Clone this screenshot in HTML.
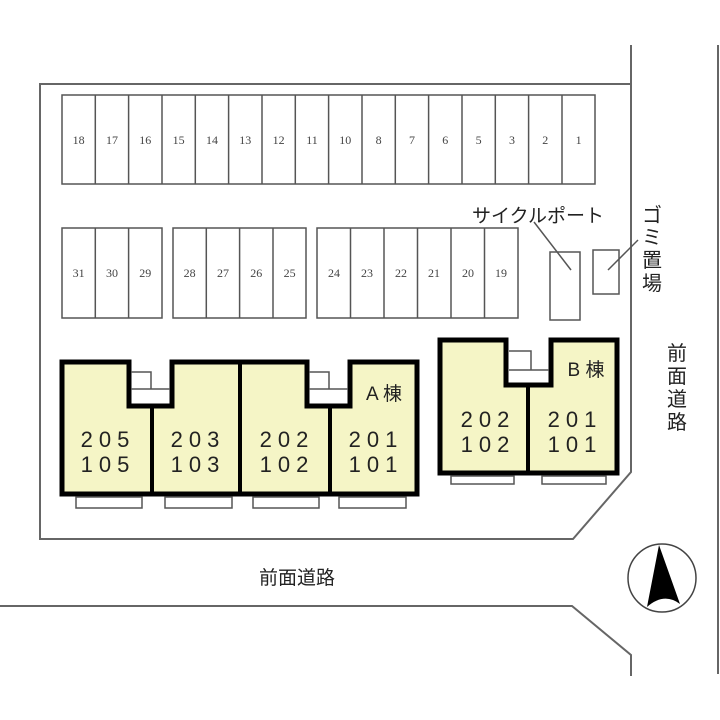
<!DOCTYPE html>
<html><head><meta charset="utf-8"><style>
html,body{margin:0;padding:0;background:#fff;}
svg{display:block;}
text{font-family:"Liberation Sans","Noto Sans CJK JP",sans-serif;fill:#222;}
.n{font-size:12px;fill:#444;text-anchor:middle;font-family:"Liberation Serif",serif;}
.u{font-size:22px;text-anchor:middle;letter-spacing:6px;}
</style></head><body>
<svg width="720" height="720" viewBox="0 0 720 720" xmlns="http://www.w3.org/2000/svg">
<g fill="none" stroke="#666" stroke-width="2">
<polyline points="631,45 631,472 573,539 40,539 40,84 631,84"/>
<polyline points="0,606 572,606 631,655 631,676"/>
<line x1="718" y1="45" x2="718" y2="674"/>
</g>
<g fill="#fff" stroke="#555" stroke-width="1.5">
<rect x="62" y="95" width="533" height="89"/>
<rect x="62" y="228" width="100" height="90"/>
<rect x="173" y="228" width="133" height="90"/>
<rect x="317" y="228" width="201" height="90"/>
<rect x="550" y="252" width="30" height="68"/>
<rect x="593" y="250" width="26" height="44"/>
</g>
<g stroke="#555" stroke-width="1.5">
<line x1="95.3" y1="95" x2="95.3" y2="184"/><line x1="128.6" y1="95" x2="128.6" y2="184"/>
<line x1="162" y1="95" x2="162" y2="184"/><line x1="195.3" y1="95" x2="195.3" y2="184"/>
<line x1="228.6" y1="95" x2="228.6" y2="184"/><line x1="262" y1="95" x2="262" y2="184"/>
<line x1="295.3" y1="95" x2="295.3" y2="184"/><line x1="328.6" y1="95" x2="328.6" y2="184"/>
<line x1="362" y1="95" x2="362" y2="184"/><line x1="395.3" y1="95" x2="395.3" y2="184"/>
<line x1="428.6" y1="95" x2="428.6" y2="184"/><line x1="462" y1="95" x2="462" y2="184"/>
<line x1="495.3" y1="95" x2="495.3" y2="184"/><line x1="528.6" y1="95" x2="528.6" y2="184"/>
<line x1="562" y1="95" x2="562" y2="184"/>
<line x1="95.3" y1="228" x2="95.3" y2="318"/><line x1="128.6" y1="228" x2="128.6" y2="318"/>
<line x1="206.3" y1="228" x2="206.3" y2="318"/><line x1="239.6" y1="228" x2="239.6" y2="318"/><line x1="273" y1="228" x2="273" y2="318"/>
<line x1="350.5" y1="228" x2="350.5" y2="318"/><line x1="384" y1="228" x2="384" y2="318"/><line x1="417.5" y1="228" x2="417.5" y2="318"/><line x1="451" y1="228" x2="451" y2="318"/><line x1="484.5" y1="228" x2="484.5" y2="318"/>
<line x1="534" y1="222" x2="571" y2="270"/>
<line x1="638" y1="240" x2="608" y2="270"/>
</g>
<g class="n">
<text x="78.6" y="144" class="n">18</text><text x="112" y="144" class="n">17</text><text x="145.3" y="144" class="n">16</text><text x="178.6" y="144" class="n">15</text>
<text x="212" y="144" class="n">14</text><text x="245.3" y="144" class="n">13</text><text x="278.6" y="144" class="n">12</text><text x="312" y="144" class="n">11</text>
<text x="345.3" y="144" class="n">10</text><text x="378.6" y="144" class="n">8</text><text x="412" y="144" class="n">7</text><text x="445.3" y="144" class="n">6</text>
<text x="478.6" y="144" class="n">5</text><text x="512" y="144" class="n">3</text><text x="545.3" y="144" class="n">2</text><text x="578.6" y="144" class="n">1</text>
<text x="78.6" y="277" class="n">31</text><text x="112" y="277" class="n">30</text><text x="145.3" y="277" class="n">29</text>
<text x="189.6" y="277" class="n">28</text><text x="223" y="277" class="n">27</text><text x="256.3" y="277" class="n">26</text><text x="289.6" y="277" class="n">25</text>
<text x="334" y="277" class="n">24</text><text x="367" y="277" class="n">23</text><text x="401" y="277" class="n">22</text><text x="434" y="277" class="n">21</text><text x="468" y="277" class="n">20</text><text x="501" y="277" class="n">19</text>
</g>
<path d="M62,362 H129 V406 H172 V362 H307 V406 H350 V362 H417 V494 H62 Z" fill="#f5f5c6" stroke="#000" stroke-width="5"/>
<g stroke="#000" stroke-width="4"><line x1="152" y1="406" x2="152" y2="494"/><line x1="240" y1="362" x2="240" y2="494"/><line x1="330" y1="406" x2="330" y2="494"/></g>
<g fill="none" stroke="#555" stroke-width="1.5">
<polyline points="131,372 151,372 151,389"/><line x1="131" y1="389" x2="170" y2="389"/>
<polyline points="309,372 329,372 329,389"/><line x1="309" y1="389" x2="348" y2="389"/>
<rect x="76" y="497" width="66" height="11"/><rect x="165" y="497" width="67" height="11"/><rect x="253" y="497" width="66" height="11"/><rect x="339" y="497" width="67" height="11"/>
</g>
<text x="384" y="400" style="font-size:19px;text-anchor:middle;">A 棟</text>
<text x="108" y="447" class="u">205</text><text x="108" y="472" class="u">105</text>
<text x="198" y="447" class="u">203</text><text x="198" y="472" class="u">103</text>
<text x="287" y="447" class="u">202</text><text x="287" y="472" class="u">102</text>
<text x="376" y="447" class="u">201</text><text x="376" y="472" class="u">101</text>
<path d="M440,340 H506 V385 H551 V340 H617 V473 H440 Z" fill="#f5f5c6" stroke="#000" stroke-width="5"/>
<line x1="528" y1="385" x2="528" y2="473" stroke="#000" stroke-width="4"/>
<g fill="none" stroke="#555" stroke-width="1.5">
<polyline points="509,351 531,351 531,370"/><line x1="509" y1="370" x2="549" y2="370"/>
<rect x="451" y="476" width="63" height="8"/><rect x="542" y="476" width="64" height="8"/>
</g>
<text x="586" y="376" style="font-size:19px;text-anchor:middle;">B 棟</text>
<text x="488" y="427" class="u">202</text><text x="488" y="452" class="u">102</text>
<text x="575" y="427" class="u">201</text><text x="575" y="452" class="u">101</text>
<text x="538" y="222" style="font-size:19px;text-anchor:middle;">サイクルポート</text>
<g style="font-size:20px;text-anchor:middle;">
<text x="652" y="222">ゴ</text><text x="652" y="244">ミ</text><text x="652" y="267">置</text><text x="652" y="290">場</text>
<text x="677" y="360">前</text><text x="677" y="383">面</text><text x="677" y="406">道</text><text x="677" y="429">路</text>
</g>
<text x="297" y="584" style="font-size:19px;text-anchor:middle;">前面道路</text>
<circle cx="662" cy="578" r="34" fill="none" stroke="#444" stroke-width="1.5"/>
<path d="M659,545 L680,604 Q664,592 647,607 Z" fill="#000"/>
</svg>
</body></html>
